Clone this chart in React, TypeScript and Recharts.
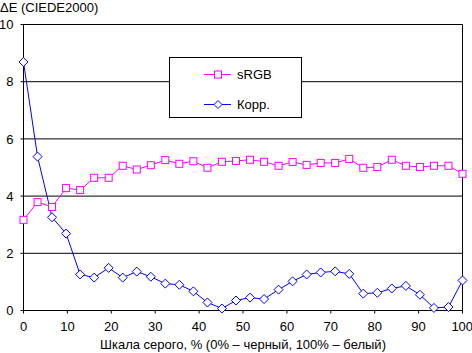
import React from 'react';
import { LineChart, Line, XAxis, YAxis, CartesianGrid, ReferenceLine } from 'recharts';

const FONT = '"Liberation Sans", Arial, sans-serif';

// grey scale steps, 32 samples 0..100 %
const steps = [
  0, 3.2, 6.5, 9.7, 12.9, 16.1, 19.4, 22.6, 25.8, 29.0, 32.3, 35.5, 38.7, 41.9, 45.2, 48.4,
  51.6, 54.8, 58.1, 61.3, 64.5, 67.7, 71.0, 74.2, 77.4, 80.6, 83.9, 87.1, 90.3, 93.5, 96.8, 100,
];
const srgb = [
  3.17, 3.79, 3.62, 4.28, 4.21, 4.64, 4.64, 5.06, 4.93, 5.08, 5.26, 5.13, 5.22, 4.99, 5.2, 5.23,
  5.27, 5.2, 5.06, 5.19, 5.09, 5.16, 5.16, 5.3, 4.99, 5.02, 5.27, 5.06, 5.02, 5.06, 5.06, 4.78,
];
const korr = [
  8.69, 5.38, 3.26, 2.69, 1.26, 1.15, 1.49, 1.15, 1.36, 1.18, 0.94, 0.9, 0.67, 0.28, 0.07, 0.35,
  0.45, 0.4, 0.73, 1.02, 1.26, 1.33, 1.37, 1.28, 0.59, 0.62, 0.77, 0.86, 0.55, 0.09, 0.12, 1.05,
];
const xTicks = [0, 10, 20, 30, 40, 50, 60, 70, 80, 90, 100];
const yTicks = [0, 2, 4, 6, 8, 10];

const data = steps.map((s, i) => ({ x: s, srgb: srgb[i], korr: korr[i] }));

const SquareDot = (props: any) => {
  const { cx, cy } = props;
  if (cx == null || cy == null) return null;
  return <rect x={cx - 3.5} y={cy - 3.5} width={7} height={7} fill="#fff" stroke="#ff00ff" strokeWidth={1} />;
};

const DiamondDot = (props: any) => {
  const { cx, cy } = props;
  if (cx == null || cy == null) return null;
  return (
    <path
      d={`M${cx},${cy - 4.5}L${cx + 4.5},${cy}L${cx},${cy + 4.5}L${cx - 4.5},${cy}Z`}
      fill="#fff"
      stroke="#0000ff"
      strokeWidth={1}
    />
  );
};

const legendItems = [
  { name: 'sRGB', color: '#ff00ff', y: 16, dot: 'sq' },
  { name: 'Корр.', color: '#0000ff', y: 46, dot: 'dm' },
];

const LegendBox = () => (
  <div
    style={{
      position: 'absolute',
      left: 169,
      top: 57,
      width: 133,
      height: 61,
      boxSizing: 'border-box',
      border: '1px solid #000',
      background: '#fff',
      fontFamily: FONT,
      fontSize: 13,
    }}
  >
    {legendItems.map((it) => (
      <div key={it.name} style={{ position: 'absolute', left: 34, top: it.y - 8, height: 16, display: 'flex', alignItems: 'center' }}>
        <svg width={28} height={16}>
          <line x1={0} y1={8.5} x2={27} y2={8.5} stroke={it.color} />
          {it.dot === 'sq' ? (
            <rect x={10.5} y={5} width={7} height={7} fill="#fff" stroke={it.color} />
          ) : (
            <path d="M14,4.5L18,8.5L14,12.5L10,8.5Z" fill="#fff" stroke={it.color} />
          )}
        </svg>
        <span style={{ marginLeft: 5 }}>{it.name}</span>
      </div>
    ))}
  </div>
);

export default function App() {
  return (
    <div style={{ position: 'absolute', left: 0, top: 0, width: 472, height: 353, background: '#fff' }}>
      <div style={{ position: 'absolute', left: 0, top: 0, fontFamily: FONT, fontSize: 13, lineHeight: '16px' }}>
        ΔE (CIEDE2000)
      </div>
      <LineChart width={472} height={353} data={data} margin={{ top: 24.5, right: 9.5, left: 0.5, bottom: 0 }}>
        <CartesianGrid vertical={false} stroke="#000" strokeDasharray="" />
        <ReferenceLine x={100} stroke="#000" />
        <XAxis
          dataKey="x"
          type="number"
          domain={[0, 100]}
          ticks={xTicks}
          height={42.5}
          stroke="#000"
          tickSize={3}
          tickMargin={8}
          tick={{ fill: '#000', fontSize: 13, fontFamily: FONT }}
          label={{
            value: 'Шкала серого, % (0% – черный, 100% – белый)',
            position: 'insideBottom',
            offset: 4,
            style: { fill: '#000', fontSize: 13, fontFamily: FONT },
          }}
        />
        <YAxis
          type="number"
          domain={[0, 10]}
          ticks={yTicks}
          width={23}
          stroke="#000"
          tickSize={3}
          tickMargin={7}
          tick={{ fill: '#000', fontSize: 13, fontFamily: FONT }}
        />
        <Line
          dataKey="srgb"
          name="sRGB"
          stroke="#ff00ff"
          strokeWidth={1}
          dot={<SquareDot />}
          isAnimationActive={false}
        />
        <Line
          dataKey="korr"
          name="Корр."
          stroke="#0000ff"
          strokeWidth={1}
          dot={<DiamondDot />}
          isAnimationActive={false}
        />
      </LineChart>
      <LegendBox />
    </div>
  );
}
